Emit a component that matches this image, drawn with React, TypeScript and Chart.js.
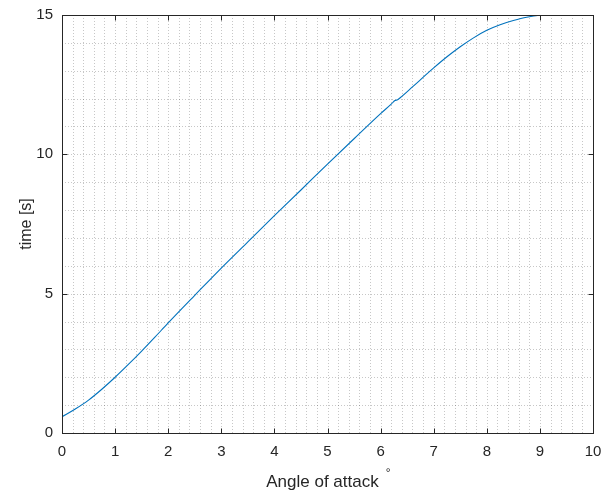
import React, { useEffect, useRef } from "react";
import { Chart, registerables } from "chart.js";

Chart.register(...registerables);

const angle = [0, 0.25, 0.5, 0.75, 1, 1.25, 1.5, 1.75, 2, 2.5, 3, 3.5, 4, 4.5, 5, 5.5, 6, 6.2, 6.27, 6.32, 6.4, 6.6, 7, 7.25, 7.5, 7.75, 8, 8.25, 8.5, 8.75, 9, 9.2, 9.4];
const time = [0.58, 0.86, 1.18, 1.57, 2.0, 2.46, 2.94, 3.44, 3.95, 4.94, 5.92, 6.86, 7.8, 8.72, 9.65, 10.56, 11.46, 11.8, 11.93, 11.96, 12.08, 12.42, 13.1, 13.5, 13.86, 14.18, 14.45, 14.65, 14.8, 14.92, 14.99, 15.0, 15.0];

const xTicks = [0, 1, 2, 3, 4, 5, 6, 7, 8, 9, 10];
const yTicks = [0, 5, 10, 15];
const xMinorStep = 0.2;
const yMinorStep = 1;
const xLabel = "Angle of attack";
const xLabelSup = "°";
const yLabel = "time [s]";

const FONT = "'Liberation Sans', Arial, Helvetica, sans-serif";
const AXIS = "#262626";

const frame = {
  id: "matlabFrame",
  beforeDatasetsDraw(chart: any) {
    const { ctx, chartArea: a, scales } = chart;
    const xs = scales.x, ys = scales.y;
    ctx.save();
    ctx.strokeStyle = "rgba(0,0,0,0.22)";
    ctx.lineWidth = 1;
    ctx.setLineDash([1, 2]);
    const nx = Math.round((xs.max - xs.min) / xMinorStep);
    for (let k = 1; k < nx; k++) {
      const px = Math.round(xs.getPixelForValue(xs.min + k * xMinorStep)) + 0.5;
      ctx.beginPath();
      ctx.moveTo(px, a.top);
      ctx.lineTo(px, a.bottom);
      ctx.stroke();
    }
    const ny = Math.round((ys.max - ys.min) / yMinorStep);
    for (let k = 1; k < ny; k++) {
      const py = Math.round(ys.getPixelForValue(ys.min + k * yMinorStep)) + 0.5;
      ctx.beginPath();
      ctx.moveTo(a.left, py);
      ctx.lineTo(a.right, py);
      ctx.stroke();
    }
    ctx.restore();
  },
  afterDatasetsDraw(chart: any) {
    const { ctx, chartArea: a, scales } = chart;
    const xs = scales.x, ys = scales.y;
    ctx.save();
    ctx.strokeStyle = AXIS;
    ctx.lineWidth = 1;
    const L = Math.round(a.left) + 0.5, R = Math.round(a.right) + 0.5;
    const T = Math.round(a.top) + 0.5, B = Math.round(a.bottom) + 0.5;
    ctx.strokeRect(L, T, R - L, B - T);
    const tl = 5;
    ctx.beginPath();
    xTicks.forEach((v) => {
      const px = Math.round(xs.getPixelForValue(v)) + 0.5;
      ctx.moveTo(px, B); ctx.lineTo(px, B - tl);
      ctx.moveTo(px, T); ctx.lineTo(px, T + tl);
    });
    yTicks.forEach((v) => {
      const py = Math.round(ys.getPixelForValue(v)) + 0.5;
      ctx.moveTo(L, py); ctx.lineTo(L + tl, py);
      ctx.moveTo(R, py); ctx.lineTo(R - tl, py);
    });
    ctx.stroke();

    // axis titles
    ctx.fillStyle = AXIS;
    ctx.font = `17px ${FONT}`;
    ctx.textAlign = "center";
    ctx.textBaseline = "alphabetic";
    const cx = (a.left + a.right) / 2 - 5;
    ctx.fillText(xLabel, cx, 487);
    const w = ctx.measureText(xLabel).width;
    ctx.font = `12px ${FONT}`;
    ctx.textAlign = "left";
    ctx.fillText(xLabelSup, cx + w / 2 + 7, 477);

    ctx.save();
    ctx.translate(27, (a.top + a.bottom) / 2);
    ctx.rotate(-Math.PI / 2);
    ctx.font = `16px ${FONT}`;
    ctx.textAlign = "center";
    ctx.textBaseline = "middle";
    ctx.fillText(yLabel, 0, 0);
    ctx.restore();
    ctx.restore();
  },
};

export default function App() {
  const ref = useRef<HTMLCanvasElement>(null);
  useEffect(() => {
    if (!ref.current) return;
    const chart = new Chart(ref.current, {
      type: "line",
      data: {
        datasets: [
          {
            data: angle.map((x, i) => ({ x, y: time[i] })),
            borderColor: "rgb(0,114,189)",
            borderWidth: 1.1,
            pointRadius: 0,
            fill: false,
            cubicInterpolationMode: "monotone",
          },
        ],
      },
      options: {
        animation: false,
        responsive: false,
        events: [],
        layout: { padding: { left: 0, top: 15, right: 10, bottom: 0 } },
        plugins: { legend: { display: false }, tooltip: { enabled: false } },
        scales: {
          x: {
            type: "linear",
            min: 0,
            max: 10,
            afterBuildTicks: (s: any) => { s.ticks = xTicks.map((v) => ({ value: v })); },
            afterFit: (s: any) => { s.height = 62; s.paddingLeft = 0; s.paddingRight = 0; },
            ticks: { color: AXIS, font: { family: FONT, size: 15 }, padding: 10, maxRotation: 0, autoSkip: false },
            grid: { display: false, drawTicks: false },
            border: { display: false },
          },
          y: {
            type: "linear",
            min: 0,
            max: 15,
            afterBuildTicks: (s: any) => { s.ticks = yTicks.map((v) => ({ value: v })); },
            afterFit: (s: any) => { s.width = 62; s.paddingTop = 0; s.paddingBottom = 0; },
            ticks: { color: AXIS, font: { family: FONT, size: 15 }, padding: 9, autoSkip: false },
            grid: { display: false, drawTicks: false },
            border: { display: false },
          },
        },
      },
      plugins: [frame],
    });
    return () => chart.destroy();
  }, []);
  return (
    <div style={{ position: "absolute", left: 0, top: 0, width: 603, height: 495, background: "#fff" }}>
      <canvas ref={ref} width={603} height={495} style={{ display: "block" }} />
    </div>
  );
}
